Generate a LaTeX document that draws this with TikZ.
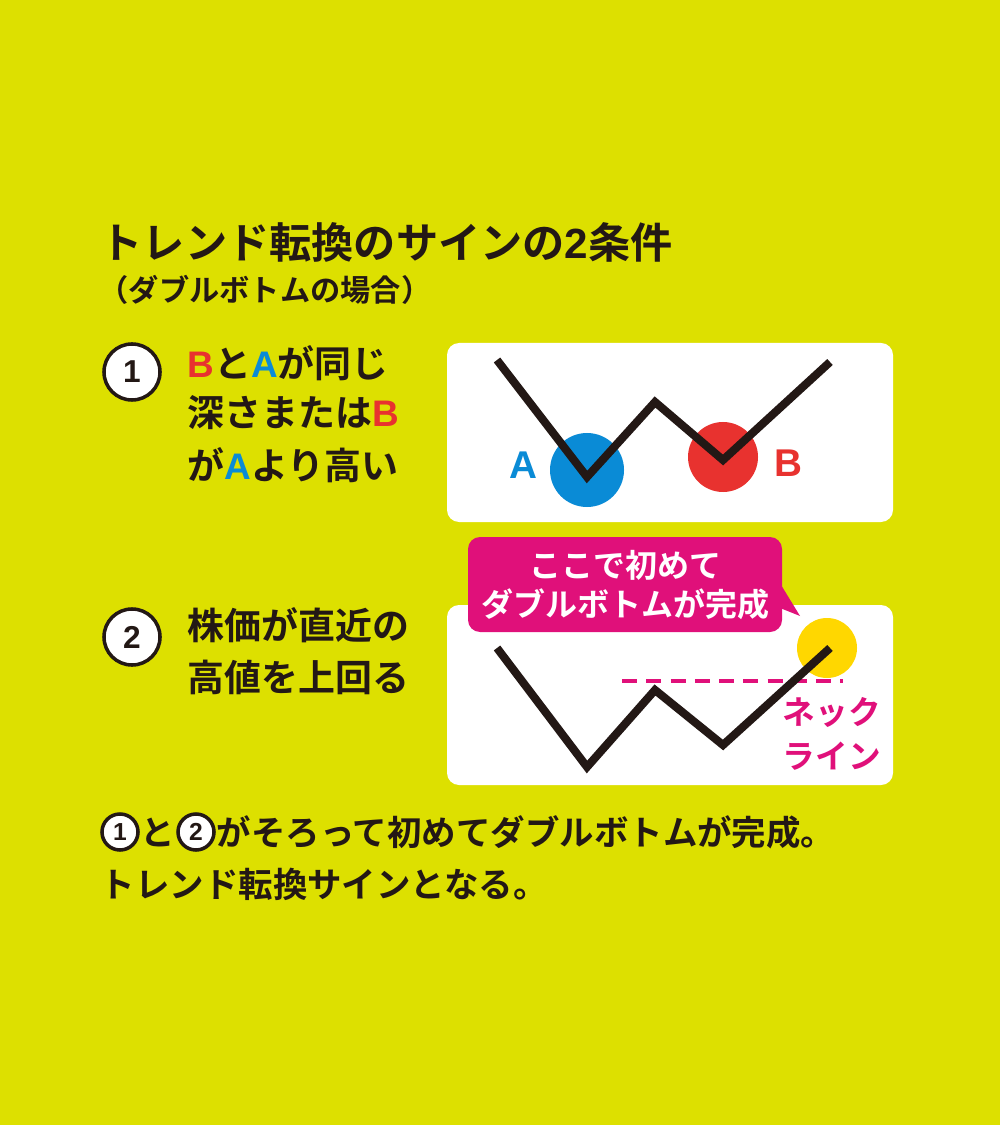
\documentclass[tikz,border=0pt]{standalone}
\usepackage{fontspec}
\setmainfont{Noto Sans CJK JP}[BoldFont={Noto Sans CJK JP Bold}]
\newfontfamily\lat{Liberation Sans}
\definecolor{bg}{HTML}{DDE000}
\definecolor{rd}{HTML}{E8322F}
\definecolor{bl}{HTML}{0A8BD6}
\definecolor{mg}{HTML}{E0107A}
\definecolor{yl}{HTML}{FFD700}
\definecolor{ink}{HTML}{231815}
\newcommand{\fs}[1]{\fontsize{#1}{#1}\selectfont\bfseries}
\newcommand{\LB}[2]{\textcolor{#1}{\lat\bfseries #2}}
\tikzset{
 txt/.style={anchor=west,inner sep=0,text=ink},
 num/.style={circle,draw=ink,fill=white,line width=1pt,inner sep=0,minimum size=0.56cm,text=ink},
 panel/.style={fill=white,rounded corners=0.12cm,draw=none},
 zig/.style={draw=ink,line width=2.3pt,line join=miter},
}
\begin{document}
\begin{tikzpicture}[x=0.01cm,y=-0.01cm]
\fill[bg] (0,0) rectangle (1000,1125);
\useasboundingbox (0,0) rectangle (1000,1125);
\node[txt] (t1) at (100,242) {\fs{12pt}トレンド転換のサインの\lat 2\rmfamily 条件};
\node[txt] (t2) at (98,290) {\fs{8.6pt}（ダブルボトムの場合）};
% item 1
\node[num] (n1) at (132,372) {\fs{9pt}\lat 1};
\node[txt] (l1) at (187,363) {\fs{10.5pt}\LB{rd}{B}と\LB{bl}{A}が同じ};
\node[txt] (l2) at (187,413) {\fs{10.5pt}深さまたは\LB{rd}{B}};
\node[txt] (l3) at (187,465) {\fs{10.5pt}が\LB{bl}{A}より高い};
\fill[panel] (447,343) rectangle (893,522);
\fill[bl] (587,470) circle (37);
\fill[rd] (723,457) circle (35);
\node (A) at (523,465) {\fs{11pt}\LB{bl}{A}};
\node (B) at (788,463) {\fs{11pt}\LB{rd}{B}};
\draw[zig] (497,360) -- (587,477) -- (655,402) -- (723,460) -- (830,362);
% item 2
\node[num] (n2) at (132,637) {\fs{9pt}\lat 2};
\node[txt] (m1) at (187,625) {\fs{10.5pt}株価が直近の};
\node[txt] (m2) at (187,677) {\fs{10.5pt}高値を上回る};
\fill[panel] (447,605) rectangle (893,785);
\fill[yl] (827,648) circle (30);
\draw[mg,line width=1.2pt,dash pattern=on 4.3pt off 2.6pt] (622,681) -- (843,681);
\draw[zig] (497,648) -- (587,767) -- (655,690) -- (723,745) -- (830,648);
\node[text=mg,align=center,inner sep=0,font=\fs{9.3pt}] (nk) at (832,734) {ネック\\[3pt]ライン};
\fill[mg] (760,600) -- (800,616) -- (778,580) -- cycle;
\fill[mg,rounded corners=0.12cm] (468,537) rectangle (782,632);
\node[text=white,align=center,inner sep=0,font=\fs{9.1pt}] (cb) at (625,585) {ここで初めて\\[2pt]ダブルボトムが完成};
% bottom
\node[num,minimum size=0.36cm] (c1) at (120,832) {\fs{7pt}\lat 1};
\node[txt] (b0) at (140,832) {\fs{9.8pt}と};
\node[num,minimum size=0.36cm] (c2) at (196,832) {\fs{7pt}\lat 2};
\node[txt] (b1) at (216,832) {\fs{9.8pt}がそろって初めてダブルボトムが完成。};
\node[txt] (b2) at (100,884) {\fs{9.8pt}トレンド転換サインとなる。};
\end{tikzpicture}
\end{document}
